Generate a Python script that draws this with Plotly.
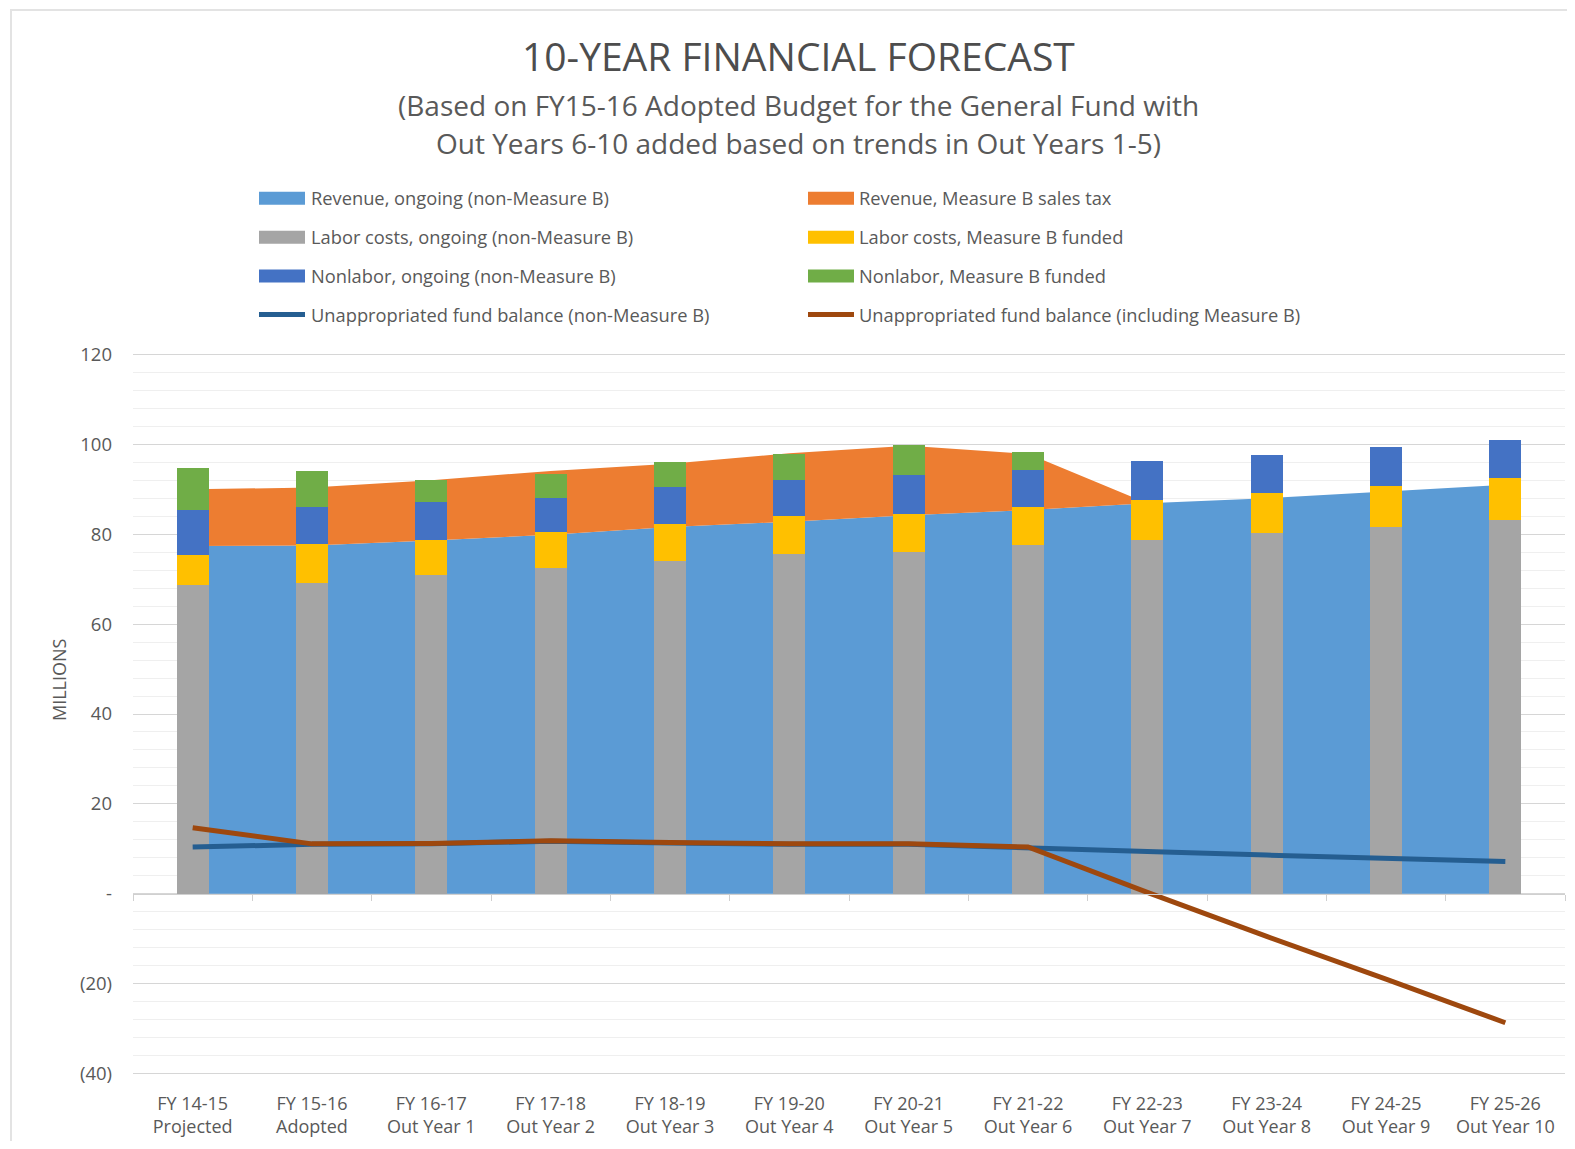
import plotly.graph_objects as go

# ---------------- data ----------------
categories = [
    "FY 14-15<br>Projected", "FY 15-16<br>Adopted", "FY 16-17<br>Out Year 1",
    "FY 17-18<br>Out Year 2", "FY 18-19<br>Out Year 3", "FY 19-20<br>Out Year 4",
    "FY 20-21<br>Out Year 5", "FY 21-22<br>Out Year 6", "FY 22-23<br>Out Year 7",
    "FY 23-24<br>Out Year 8", "FY 24-25<br>Out Year 9", "FY 25-26<br>Out Year 10",
]
rev_ongoing = [77.4, 77.5, 78.6, 79.9, 81.6, 82.8, 84.2, 85.4, 86.9, 88.0, 89.5, 91.0]
rev_measure_b = [12.6, 12.9, 13.4, 14.2, 14.1, 15.2, 15.5, 12.5, 0, 0, 0, 0]
labor_ongoing = [68.7, 69.1, 70.9, 72.6, 74.1, 75.5, 76.1, 77.6, 78.8, 80.2, 81.6, 83.1]
labor_mb = [6.6, 8.7, 7.9, 7.8, 8.1, 8.5, 8.5, 8.4, 8.8, 9.0, 9.2, 9.4]
nonlabor_ongoing = [10.1, 8.3, 8.3, 7.7, 8.3, 8.0, 8.5, 8.4, 8.7, 8.5, 8.7, 8.5]
nonlabor_mb = [9.3, 8.0, 4.9, 5.4, 5.6, 5.9, 6.7, 3.8, 0, 0, 0, 0]
fund_non_mb = [10.4, 11.0, 11.1, 11.7, 11.3, 11.0, 11.0, 10.3, 9.4, 8.6, 8.0, 7.2]
fund_incl_mb = [14.7, 11.1, 11.2, 11.8, 11.4, 11.1, 11.1, 10.4, 0.3, -9.5, -19.0, -28.7]

y_tickvals = [120, 100, 80, 60, 40, 20, 0, -20, -40]
y_ticktext = ["120", "100", "80", "60", "40", "20", "-", "(20)", "(40)"]

names = [
    "Revenue, ongoing (non-Measure B)", "Revenue, Measure B sales tax",
    "Labor costs, ongoing (non-Measure B)", "Labor costs, Measure B funded",
    "Nonlabor, ongoing (non-Measure B)", "Nonlabor, Measure B funded",
    "Unappropriated fund balance (non-Measure B)",
    "Unappropriated fund balance (including Measure B)",
]
colors = ["#5B9BD5", "#ED7D31", "#A5A5A5", "#FFC000", "#4472C4", "#70AD47",
          "#255E91", "#9E480E"]
kinds = ["box"] * 6 + ["line"] * 2

# ---------------- layout helpers ----------------
# The page body has an 8px default margin; the figure is sized to fit inside it.
OFF = 8
W, H = 1575 - 2 * OFF, 1149 - 2 * OFF
# y range padded by 1 unit (4.5 px) so the 120 and -40 gridlines are drawn
yr = [-41, 121]
# plot area in page pixels: 120 -> y 354, -40 -> y 1074
PLOT_TOP, PLOT_BOTTOM = 349.5, 1078.5
L = 133 - OFF
R = W - (1565 - OFF)
T = PLOT_TOP - OFF
B = H - (PLOT_BOTTOM - OFF)
FONT = "Open Sans"
TXT = "#595959"


def fx(p):
    """page x pixel -> paper fraction"""
    return (p - OFF - L) / (W - L - R)


def fy(p):
    """page y pixel -> paper fraction"""
    return (H - B - (p - OFF)) / (H - T - B)


idx = list(range(len(categories)))
n = len(categories)

fig = go.Figure()

# stacked areas (revenue) on the base subplot
fig.add_trace(go.Scatter(x=idx, y=rev_ongoing, name=names[0], stackgroup="rev",
                         mode="lines", line=dict(width=0, color=colors[0]),
                         fillcolor=colors[0], xaxis="x", yaxis="y"))
fig.add_trace(go.Scatter(x=idx, y=rev_measure_b, name=names[1], stackgroup="rev",
                         mode="lines", line=dict(width=0, color=colors[1]),
                         fillcolor=colors[1], xaxis="x", yaxis="y"))

# stacked bars (costs) on the overlay subplot
for vals, nm, col in zip([labor_ongoing, labor_mb, nonlabor_ongoing, nonlabor_mb],
                         names[2:6], colors[2:6]):
    fig.add_trace(go.Bar(x=idx, y=vals, name=nm, marker=dict(color=col, line=dict(width=0)),
                         width=0.27, xaxis="x2", yaxis="y"))

# lines
fig.add_trace(go.Scatter(x=idx, y=fund_non_mb, name=names[6], mode="lines",
                         line=dict(color=colors[6], width=5), xaxis="x2", yaxis="y"))
fig.add_trace(go.Scatter(x=idx, y=fund_incl_mb, name=names[7], mode="lines",
                         line=dict(color=colors[7], width=5), xaxis="x2", yaxis="y"))

zero_pos = (0 - yr[0]) / (yr[1] - yr[0])

fig.update_layout(
    width=W, height=H,
    margin=dict(l=L, r=R, t=T, b=B, autoexpand=False),
    paper_bgcolor="white", plot_bgcolor="white",
    showlegend=False, barmode="stack",
    font=dict(family=FONT, color=TXT, size=18),
    xaxis=dict(range=[-0.5, n - 0.5], tickvals=idx, ticktext=categories,
               showgrid=False, zeroline=False, showline=False, ticks="",
               tickfont=dict(size=18, color=TXT, family=FONT),
               ticklabelstandoff=13, automargin=False),
    xaxis2=dict(range=[-0.5, n - 0.5], overlaying="x", anchor="free",
                position=zero_pos, side="bottom",
                tickvals=[i - 0.5 for i in range(n + 1)], showticklabels=False,
                ticks="outside", ticklen=6, tickcolor="#d0d0d0",
                showline=True, linecolor="#d0d0d0", linewidth=1,
                showgrid=False, zeroline=False),
    yaxis=dict(range=yr, tickvals=y_tickvals, ticktext=y_ticktext,
               showgrid=True, gridcolor="#d6d6d6", gridwidth=1,
               minor=dict(dtick=4, tick0=0, showgrid=True, gridcolor="#efefef", gridwidth=1),
               zeroline=False, showline=False, ticks="",
               tickfont=dict(size=18.5, color=TXT, family=FONT),
               ticklabelstandoff=20, automargin=False),
)

shapes = []
annotations = []

# outer frame
shapes.append(dict(type="rect", xref="paper", yref="paper",
                   x0=fx(11), x1=fx(1600), y0=fy(1170), y1=fy(9),
                   line=dict(color="#e3e3e3", width=2), fillcolor="rgba(0,0,0,0)",
                   layer="below"))

# titles
annotations.append(dict(text="10-YEAR FINANCIAL FORECAST", x=fx(798), y=fy(55),
                        xref="paper", yref="paper", showarrow=False,
                        xanchor="center", yanchor="middle",
                        font=dict(family=FONT, size=39, color="#4d4d4d")))
annotations.append(dict(text="(Based on FY15-16 Adopted Budget for the General Fund with",
                        x=fx(798), y=fy(104), xref="paper", yref="paper", showarrow=False,
                        xanchor="center", yanchor="middle",
                        font=dict(family=FONT, size=28, color=TXT)))
annotations.append(dict(text="Out Years 6-10 added based on trends in Out Years 1-5)",
                        x=fx(798), y=fy(142), xref="paper", yref="paper", showarrow=False,
                        xanchor="center", yanchor="middle",
                        font=dict(family=FONT, size=28, color=TXT)))

# y-axis title
annotations.append(dict(text="MILLIONS", x=fx(59), y=fy(680), xref="paper", yref="paper",
                        showarrow=False, textangle=-90, xanchor="center", yanchor="middle",
                        font=dict(family=FONT, size=18, color=TXT)))

# manual legend (2 columns x 4 rows)
rows = [197, 236, 275, 314]
cols = [(259, 305, 309), (808, 854, 857)]
for i, (nm, col, kind) in enumerate(zip(names, colors, kinds)):
    r, c = divmod(i, 2)
    sx0, sx1, tx = cols[c]
    cy = rows[r]
    if kind == "box":
        shapes.append(dict(type="rect", xref="paper", yref="paper",
                           x0=fx(sx0), x1=fx(sx1), y0=fy(cy + 7), y1=fy(cy - 6),
                           line=dict(width=0), fillcolor=col))
    else:
        shapes.append(dict(type="line", xref="paper", yref="paper",
                           x0=fx(sx0), x1=fx(sx1), y0=fy(cy), y1=fy(cy),
                           line=dict(width=5, color=col)))
    annotations.append(dict(text=nm, x=fx(tx), y=fy(cy), xref="paper", yref="paper",
                            showarrow=False, xanchor="left", yanchor="middle",
                            font=dict(family=FONT, size=18.3, color=TXT)))

fig.update_layout(shapes=shapes, annotations=annotations)

fig.write_html("out.html")
